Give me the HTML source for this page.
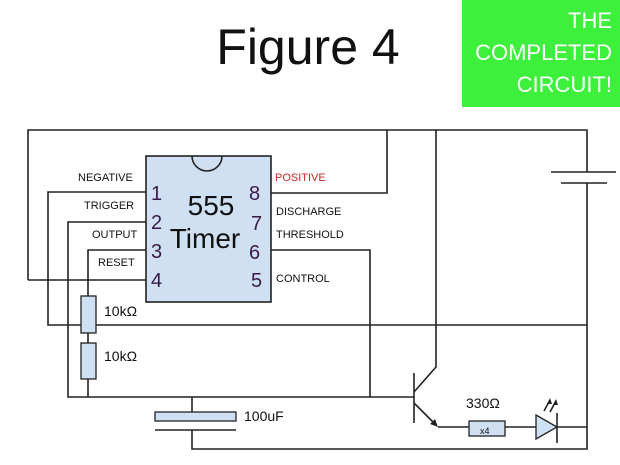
<!DOCTYPE html>
<html><head><style>body{margin:0;background:#fff}svg{display:block}</style></head>
<body>
<svg width="620" height="465" viewBox="0 0 620 465" xmlns="http://www.w3.org/2000/svg" font-family="Liberation Sans, sans-serif">
<rect width="620" height="465" fill="#fff"/>
<text x="308" y="64" font-size="50" text-anchor="middle" fill="#111">Figure 4</text>
<rect x="462" y="0" width="158" height="107" fill="#3cf03c"/>
<g fill="#fff" font-size="22" text-anchor="end">
<text x="612" y="28">THE</text><text x="612" y="60">COMPLETED</text><text x="612" y="92">CIRCUIT!</text></g>
<g stroke="#222" stroke-width="1.6" fill="none">
<polyline points="28,280 28,130 587,130 587,172"/>
<polyline points="28,280 155,280"/>
<polyline points="262,193 387,193 387,130"/>
<polyline points="436,130 436,367 414,392"/>
<line x1="551" y1="172" x2="616" y2="172"/>
<line x1="561" y1="183" x2="607" y2="183"/>
<polyline points="587,183 587,449 192,449 192,430"/>
<polyline points="150,192 48,192 48,325 587,325"/>
<polyline points="150,222 68,222 68,397 414,397"/>
<polyline points="150,250 88,250 88,296"/>
<line x1="88" y1="333" x2="88" y2="343"/>
<line x1="88" y1="379" x2="88" y2="397"/>
<polyline points="262,250 370,250 370,397"/>
<line x1="414" y1="373" x2="414" y2="423"/>
<line x1="414" y1="403" x2="436" y2="425"/>
<polyline points="438,427 469,427"/><line x1="505" y1="427" x2="536" y2="427"/><line x1="557" y1="427" x2="587" y2="427"/>
<line x1="557" y1="413" x2="557" y2="443"/>
<line x1="192" y1="397" x2="192" y2="412"/>
<line x1="155" y1="430" x2="236" y2="430"/>
<line x1="544" y1="411" x2="550" y2="400"/><line x1="550" y1="412" x2="556" y2="401"/>
</g>
<polygon points="438,427 430,424 435,419" fill="#222"/>
<polygon points="550,398 547,404 552,404" fill="#222"/><polygon points="556,399 553,405 558,405" fill="#222"/>
<rect x="146" y="156" width="125" height="146" fill="#cfe0f2" stroke="#222" stroke-width="1.6"/>
<path d="M192,156 A15,15 0 0 0 222,156" fill="none" stroke="#222" stroke-width="1.6"/>
<g fill="#cfe0f2" stroke="#222" stroke-width="1.3">
<rect x="81" y="296" width="15" height="37"/><rect x="81" y="343" width="15" height="36"/>
<rect x="155" y="412" width="81" height="9"/>
<rect x="469" y="421" width="36" height="15"/>
<polygon points="536,415 557,427 536,439"/></g>
<g fill="#111" font-size="11">
<text x="78" y="181">NEGATIVE</text><text x="84" y="209">TRIGGER</text><text x="92" y="238">OUTPUT</text><text x="98" y="266">RESET</text>
<text x="275" y="181" fill="#c62828">POSITIVE</text><text x="276" y="215">DISCHARGE</text><text x="276" y="238">THRESHOLD</text><text x="276" y="282">CONTROL</text>
<text x="480" y="434" font-size="9">x4</text></g>
<g fill="#3a1a4a" font-size="20">
<text x="151" y="200">1</text><text x="151" y="229">2</text><text x="151" y="258">3</text><text x="151" y="287">4</text>
<text x="249" y="200">8</text><text x="251" y="230">7</text><text x="249" y="259">6</text><text x="251" y="287">5</text></g>
<text x="211" y="215" font-size="28" text-anchor="middle" fill="#111">555</text>
<text x="205" y="248" font-size="28" text-anchor="middle" fill="#111">Timer</text>
<g font-size="14" fill="#111"><text x="104" y="316">10kΩ</text><text x="104" y="361">10kΩ</text><text x="244" y="421">100uF</text><text x="466" y="408">330Ω</text></g>
</svg>
</body></html>
